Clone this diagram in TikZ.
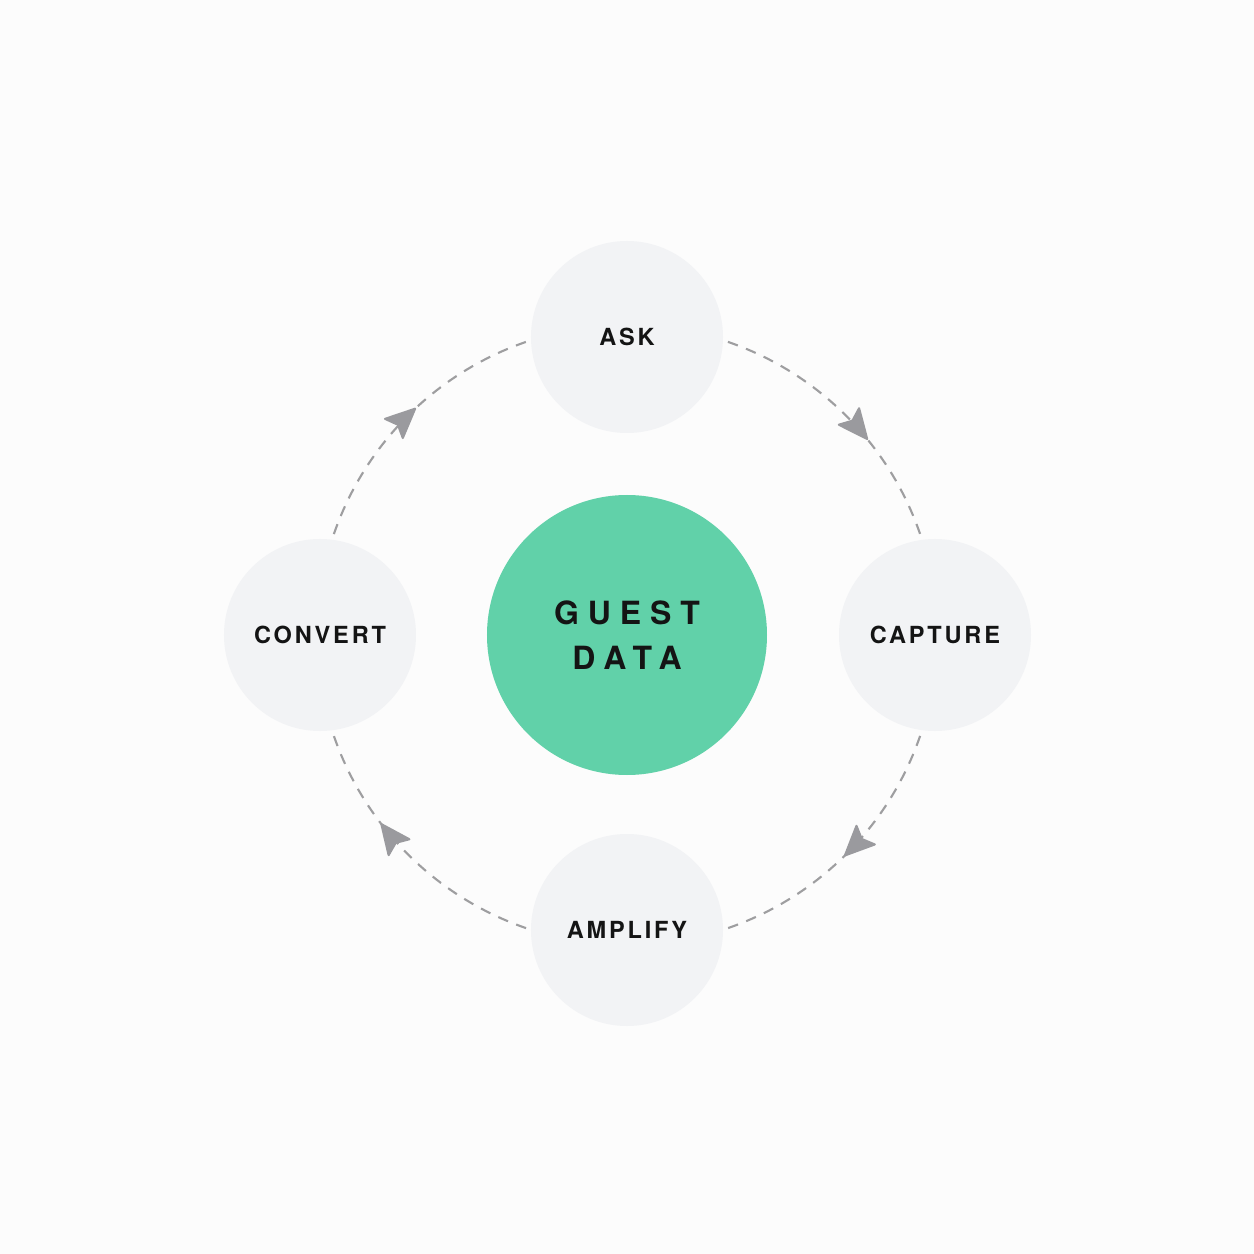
\documentclass[tikz,border=0pt]{standalone}
\usepackage{fontspec}
\setmainfont{TeX Gyre Heros}
\usetikzlibrary{arrows.meta,decorations.markings}
\definecolor{bgc}{HTML}{FCFCFC}
\definecolor{nodefill}{HTML}{F2F3F5}
\definecolor{hubfill}{HTML}{61D1A9}
\definecolor{txt}{HTML}{141414}
\definecolor{linec}{HTML}{9E9EA0}
\definecolor{tipc}{HTML}{9A9A9E}
\tikzset{
  stagenode/.style={circle,fill=nodefill,minimum size=192*0.02cm,inner sep=0pt,
    text=txt,font=\fontsize{13.4}{16}\selectfont\bfseries\addfontfeatures{LetterSpace=12}},
  hubnode/.style={circle,fill=hubfill,minimum size=280*0.02cm,inner sep=0pt,
    text=txt,align=center,font=\fontsize{18.2}{26}\selectfont\bfseries\addfontfeatures{LetterSpace=28}},
  flow/.style={draw=linec,line width=1.2pt,dash pattern=on 6pt off 5pt},
  tipat/.style={postaction={decorate,decoration={markings,
     mark=at position #1 with {\arrow[tipc]{Stealth[length=19pt,width=17pt,inset=3.5pt,round]}}}}}
}
\begin{document}
\begin{tikzpicture}[x=0.02cm,y=0.02cm]
\fill[bgc] (-627,-619) rectangle (627,635);
\useasboundingbox (-627,-619) rectangle (627,635);
\node[hubnode] (hub) at (0,0) {GUEST\\DATA};
\node[stagenode] (ask) at (0,298) {ASK};
\node[stagenode] (capture) at (308,0) {CAPTURE};
\node[stagenode] (amplify) at (0,-295) {AMPLIFY};
\node[stagenode] (convert) at (-307,0) {CONVERT};
\coordinate (askout) at (71:310);
\coordinate (capout) at (-19:310);
\coordinate (ampout) at (251:310);
\coordinate (conout) at (161:310);
\draw[flow,tipat=0.615] (askout) arc[start angle=71,end angle=19,radius=310];
\draw[flow,tipat=0.51] (capout) arc[start angle=-19,end angle=-71,radius=310];
\draw[flow,tipat=0.646] (ampout) arc[start angle=251,end angle=199,radius=310];
\draw[flow,tipat=0.54] (conout) arc[start angle=161,end angle=109,radius=310];
\end{tikzpicture}
\end{document}
